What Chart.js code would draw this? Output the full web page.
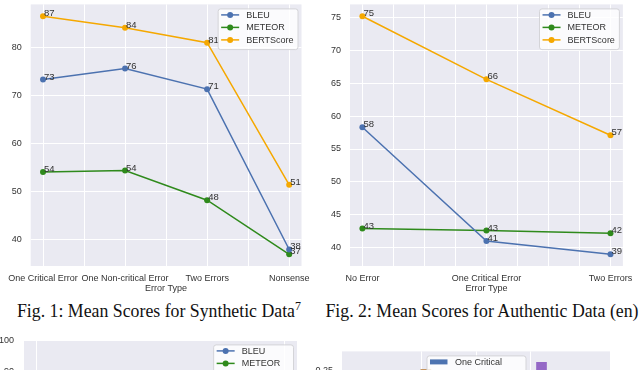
<!DOCTYPE html>
<html>
<head>
<meta charset="utf-8">
<script src="https://cdn.jsdelivr.net/npm/chart.js@4.4.0/dist/chart.umd.min.js"></script>
<style>
body{margin:0;background:#fff;}
#page{position:relative;width:640px;height:370px;overflow:hidden;background:#fff;}
#page canvas{position:absolute;}
.cap{position:absolute;font-family:"Liberation Serif","DejaVu Serif",serif;font-size:17.8px;line-height:18px;color:#111;white-space:nowrap;text-align:center;}
.cap span{position:relative;top:-7px;font-size:12px;}
</style>
</head>
<body>
<div id="page">
	<canvas id="chart_1" width="320" height="304" style="left:0;top:-10px"></canvas>
	<canvas id="chart_2" width="318" height="304" style="left:322px;top:-10px"></canvas>
	<canvas id="chart_3" width="300" height="282" style="left:0;top:325px"></canvas>
	<canvas id="chart_4" width="326" height="167" style="left:314px;top:337px"></canvas>
	<div class="cap" style="left:0;width:318px;top:302px">Fig. 1: Mean Scores for Synthetic Data<span>7</span></div>
	<div class="cap" style="left:322px;width:320px;top:302px">Fig. 2: Mean Scores for Authentic Data (en)</div>
</div>
<script>
//数据
var synthCats=['One Critical Error','One Non-critical Error','Two Errors','Nonsense'];
var synthBleu=[73.4,75.7,71.4,37.9];
var synthMeteor=[54.1,54.4,48.2,36.9];
var synthBert=[86.6,84.2,81.1,51.4];
var synthYTicks=[40,50,60,70,80];

var authCats=['No Error','One Critical Error','Two Errors'];
var authBleu=[58.3,41.0,39.0];
var authMeteor=[42.9,42.6,42.2];
var authBert=[75.2,65.6,57.1];
var authYTicks=[40,45,50,55,60,65,70,75];

var lowerYTicks=[20,30,40,50,60,70,80,90,100];

var barLegend=['One Critical','One Non-Critical'];
var barBrown=[{x:0.074,y:0.252}];
var barPurple=[{x:2.21,y:0.267}];
var barYTicks=[0,0.05,0.1,0.15,0.2,0.25];

var metricNames=['BLEU','METEOR','BERTScore'];
var metricColors=['#4c72b0','#2f8a1c','#f5a800'];
var FONT='"Liberation Sans", Arial, sans-serif';

//绘图区背景
var areaBg={id:'areaBg',beforeDraw:function(c){
	var a=c.chartArea,ctx=c.ctx;
	ctx.save();
	ctx.fillStyle='#eaeaf2';
	ctx.fillRect(a.left,a.top,a.right-a.left,a.bottom-a.top);
	ctx.restore();
}};
//点上的数值
var pointText={id:'pointText',afterDatasetsDraw:function(c,args,opt){
	if(!opt.show) return;
	var ctx=c.ctx;
	ctx.save();
	ctx.font='9.5px '+FONT;
	ctx.fillStyle='#333';
	ctx.textAlign='left';
	ctx.textBaseline='alphabetic';
	c.data.datasets.forEach(function(ds,i){
		c.getDatasetMeta(i).data.forEach(function(pt,j){
			ctx.fillText(Math.round(ds.data[j].y),pt.x+1,pt.y);
		});
	});
	ctx.restore();
}};
//图例
var boxLegend={id:'boxLegend',afterDraw:function(c,args,opt){
	if(!opt.show) return;
	var ctx=c.ctx,a=c.chartArea;
	var items=c.data.datasets.filter(function(ds){return ds.label;});
	ctx.save();
	ctx.font='9px '+FONT;
	var tw=0;
	items.forEach(function(ds){tw=Math.max(tw,ctx.measureText(ds.label).width);});
	var w=3.5+18+7+tw+4,h=items.length*12.5+3.2;
	var x=opt.center?(a.left+a.right)/2-w/2:a.right-4-w;
	var y=a.top+4;
	ctx.beginPath();
	ctx.roundRect(x+0.5,y+0.5,w,h,2.5);
	ctx.fillStyle='rgba(255,255,255,0.8)';
	ctx.fill();
	ctx.strokeStyle='#d4d4d8';
	ctx.lineWidth=1;
	ctx.stroke();
	items.forEach(function(ds,i){
		var cy=y+6.5+i*12.5;
		var col=ds.legendColor||ds.borderColor||ds.backgroundColor;
		if(opt.bars){
			ctx.fillStyle=col;
			ctx.fillRect(x+3.5,cy-2.5,17.5,5);
		}else{
			ctx.strokeStyle=col;
			ctx.lineWidth=1.5;
			ctx.beginPath();
			ctx.moveTo(x+3.5,cy);
			ctx.lineTo(x+21.5,cy);
			ctx.stroke();
			ctx.fillStyle=col;
			ctx.beginPath();
			ctx.arc(x+12.5,cy,3,0,Math.PI*2);
			ctx.fill();
		}
		ctx.fillStyle='#333';
		ctx.textBaseline='middle';
		ctx.fillText(ds.label,x+28.5,cy+0.5);
	});
	ctx.restore();
}};

function toPoints(arr){
	return arr.map(function(v,i){return {x:i,y:v};});
}
function lineSets(series){
	return series.map(function(arr,i){
		return {
			label:metricNames[i],
			data:toPoints(arr),
			borderColor:metricColors[i],
			backgroundColor:metricColors[i],
			borderWidth:1.5,
			pointRadius:3,
			pointBorderWidth:0,
			tension:0
		};
	});
}
function fixTicks(list){
	return function(s){ s.ticks=list.map(function(v){return {value:v};}); };
}
function stepTicks(n,step){
	var t=[];
	for(var v=0;v<=n-1+1e-9;v+=step){ t.push(v); }
	return t;
}
function lineChart(id,cats,series,yTicks,yMin,yMax,xStep,xPad,yWidth,padRight){
	return new Chart(document.getElementById(id),{
		type:'line',
		data:{datasets:lineSets(series)},
		plugins:[areaBg,pointText,boxLegend],
		options:{
			responsive:false,
			animation:false,
			devicePixelRatio:1,
			layout:{padding:{top:10,right:padRight,left:0,bottom:0}},
			plugins:{legend:{display:false},tooltip:{enabled:false},pointText:{show:true},boxLegend:{show:true}},
			scales:{
				x:{
					type:'linear',
					min:-xPad,max:cats.length-1+xPad,
					afterBuildTicks:fixTicks(stepTicks(cats.length,xStep)),
					afterFit:function(s){ s.height=28; },
					grid:{color:'#ffffff',lineWidth:1,drawTicks:false},
					border:{display:false},
					ticks:{autoSkip:false,maxRotation:0,padding:7,color:'#333',font:{family:FONT,size:9},
						callback:function(v){ return Number.isInteger(v)?cats[v]:''; }},
					title:{display:true,text:'Error Type',color:'#333',padding:0,font:{family:FONT,size:9}}
				},
				y:{
					type:'linear',
					min:yMin,max:yMax,
					afterBuildTicks:fixTicks(yTicks),
					afterFit:function(s){ s.width=yWidth; },
					grid:{color:'#ffffff',lineWidth:1,drawTicks:false},
					border:{display:false},
					ticks:{padding:9,color:'#333',font:{family:FONT,size:9}}
				}
			}
		}
	});
}

var chart1=lineChart('chart_1',synthCats,[synthBleu,synthMeteor,synthBert],synthYTicks,34.45,89.1,0.5,0.15,28,18.5);
var chart2=lineChart('chart_2',authCats,[authBleu,authMeteor,authBert],authYTicks,37.2,77.0,0.25,0.1,28,17);

//下方折线图(只露出顶部)
var chart3=new Chart(document.getElementById('chart_3'),{
	type:'line',
	data:{datasets:lineSets([[],[],[]])},
	plugins:[areaBg,boxLegend],
	options:{
		responsive:false,animation:false,devicePixelRatio:1,
		layout:{padding:{top:10,right:3,left:0,bottom:0}},
		plugins:{legend:{display:false},tooltip:{enabled:false},boxLegend:{show:true}},
		scales:{
			x:{type:'linear',min:-0.05,max:1.05,
				afterBuildTicks:fixTicks([0,1]),
				afterFit:function(s){ s.height=0; },
				grid:{color:'#ffffff',drawTicks:false},border:{display:false},
				ticks:{display:false}},
			y:{type:'linear',min:20,max:100,
				afterBuildTicks:fixTicks(lowerYTicks),
				afterFit:function(s){ s.width=24; },
				grid:{color:'#ffffff',drawTicks:false},border:{display:false},
				ticks:{padding:10,color:'#333',font:{family:FONT,size:9}}}
		}
	}
});

//下方柱状图(只露出顶部)
var chart4=new Chart(document.getElementById('chart_4'),{
	type:'bar',
	data:{datasets:[
		{label:barLegend[0],data:[],backgroundColor:'#4c72b0'},
		{label:barLegend[1],data:[],backgroundColor:'#f5a000'},
		{data:barBrown,backgroundColor:'#b8782f'},
		{data:barPurple,backgroundColor:'#9468c6'}
	]},
	plugins:[areaBg,boxLegend],
	options:{
		responsive:false,animation:false,devicePixelRatio:1,
		layout:{padding:{top:10,right:30,left:0,bottom:0}},
		datasets:{bar:{grouped:false,barThickness:10}},
		plugins:{legend:{display:false},tooltip:{enabled:false},boxLegend:{show:true,center:true,bars:true}},
		scales:{
			x:{type:'linear',min:-0.65,max:2.65,
				afterBuildTicks:fixTicks([0,1,2]),
				afterFit:function(s){ s.height=0; },
				grid:{color:'#ffffff',drawTicks:false,offset:false},border:{display:false},
				ticks:{display:false}},
			y:{type:'linear',min:0,max:0.29,
				afterBuildTicks:fixTicks(barYTicks),
				afterFit:function(s){ s.width=28; },
				grid:{color:'#ffffff',drawTicks:false},border:{display:false},
				ticks:{padding:9,color:'#333',font:{family:FONT,size:9},
					callback:function(v){ return v.toFixed(2); }}}
		}
	}
});
</script>
</body>
</html>
